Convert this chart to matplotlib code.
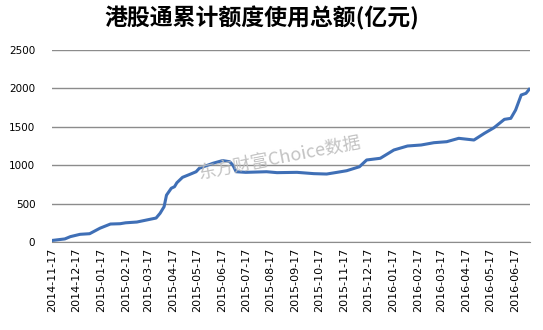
import numpy as np
import pandas as pd
import matplotlib
matplotlib.use("Agg")
from matplotlib import pyplot as plt

plt.rcParams['font.family'] = ['Noto Sans CJK SC', 'DejaVu Sans']

# 累计额度使用总额 (亿元)
dates = ["2014-11-17", "2014-12-03", "2014-12-10", "2014-12-22", "2015-01-03",
         "2015-01-16", "2015-01-29", "2015-02-10", "2015-02-17", "2015-03-03",
         "2015-03-15", "2015-03-27", "2015-04-01", "2015-04-06", "2015-04-09",
         "2015-04-15", "2015-04-19", "2015-04-22", "2015-04-29", "2015-05-08",
         "2015-05-16", "2015-05-20", "2015-06-06", "2015-06-18", "2015-06-27",
         "2015-07-01", "2015-07-05", "2015-07-17", "2015-08-12", "2015-08-25",
         "2015-09-19", "2015-10-10", "2015-10-26", "2015-11-08", "2015-11-20",
         "2015-12-06", "2015-12-15", "2016-01-01", "2016-01-18", "2016-02-04",
         "2016-02-21", "2016-03-08", "2016-03-24", "2016-04-08", "2016-04-27",
         "2016-05-10", "2016-05-22", "2016-06-04", "2016-06-12", "2016-06-18",
         "2016-06-25", "2016-07-01", "2016-07-05"]
values = [20, 40, 70, 100, 108,
          180, 234, 238, 250, 260,
          286, 312, 374, 460, 610,
          700, 720, 772, 842, 880,
          915, 960, 1025, 1060, 1045,
          1000, 915, 907, 915, 903,
          907, 890, 885, 907, 928,
          980, 1068, 1090, 1198, 1250,
          1263, 1293, 1306, 1350, 1328,
          1415, 1488, 1597, 1610, 1718,
          1914, 1936, 1988]

tick_dates = pd.date_range("2014-11-01", "2016-06-01", freq="MS") + pd.Timedelta(days=16)
yticks = [0, 500, 1000, 1500, 2000, 2500]

x = pd.to_datetime(dates)

fig = plt.figure(figsize=(5.43, 3.30), dpi=100)
ax = fig.add_axes([52/543, 1-242/330, (530-52)/543, (242-50)/330])

ax.plot(x, values, color="#3F6FB6", linewidth=2.2, solid_joinstyle="round", zorder=3)

ax.set_xlim(pd.Timestamp("2014-11-17"), pd.Timestamp("2016-07-06"))
ax.set_ylim(0, 2500)
ax.set_yticks(yticks)
ax.set_xticks(tick_dates)
ax.set_xticklabels([d.strftime("%Y-%m-%d") for d in tick_dates], rotation=90,
                   fontsize=8, family=['DejaVu Sans'])
ax.tick_params(axis='y', labelsize=7.5, length=0, pad=12)
ax.tick_params(axis='x', length=0, pad=4)
for lab in ax.get_yticklabels():
    lab.set_family(['DejaVu Sans'])

ax.grid(axis='y', color="#8c8c8c", linewidth=1)
ax.set_axisbelow(True)
for s in ['left', 'right', 'top']:
    ax.spines[s].set_visible(False)
ax.spines['bottom'].set_color("#8c8c8c")

fig.text(0.482, 0.945, "港股通累计额度使用总额(亿元)", ha='center', va='center',
         fontsize=16.5, fontweight='bold')

# 水印
fig.text(0.515, 0.52, "东方财富Choice数据", ha='center', va='center', fontsize=13,
         color="#bdbdbd", rotation=11, alpha=0.9, zorder=5)

plt.savefig("out.png", dpi=100)
